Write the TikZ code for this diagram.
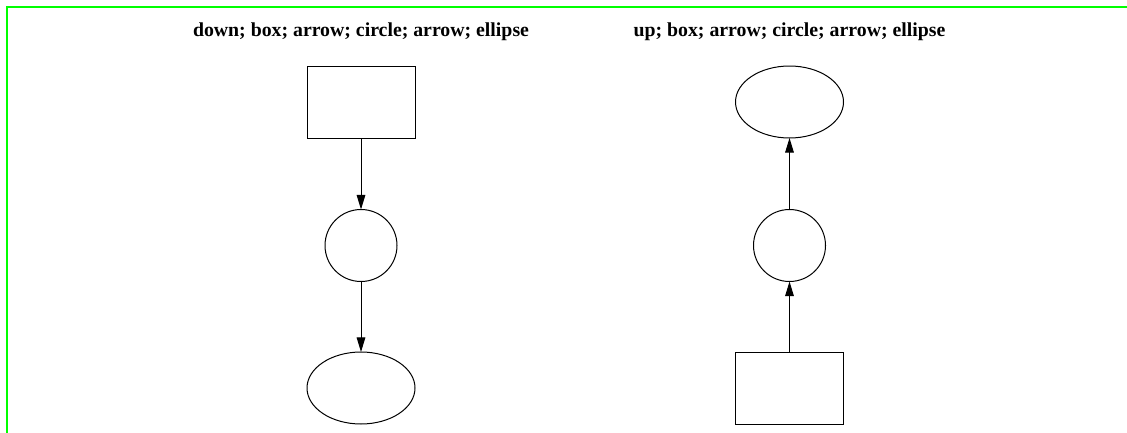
\documentclass[tikz,border=0pt]{standalone}
\usepackage{fontspec}
\setmainfont{Liberation Serif}
\usetikzlibrary{arrows.meta,shapes.geometric}
\begin{document}
\begin{tikzpicture}[x=0.75pt,y=-0.75pt,
  shp/.style={draw=black, line width=0.75pt, inner sep=0pt, outer sep=0pt},
  boxshape/.style={shp, rectangle, minimum width=81pt, minimum height=54pt},
  circshape/.style={shp, circle, minimum size=54pt},
  ellshape/.style={shp, ellipse, minimum width=81pt, minimum height=54pt},
  conn/.style={line width=0.75pt, -{Triangle[length=11pt,width=6.5pt]}},
  title/.style={font=\fontsize{14.85}{18}\selectfont\bfseries, anchor=base, inner sep=0pt},
  frame/.style={draw={rgb,255:red,0;green,255;blue,0}, line width=1.5pt}
]
\useasboundingbox (0,0) rectangle (1127,432);
\clip (0,0) rectangle (1127,432);
\draw[frame] (1140,7) -- (7,7) -- (7,445);

% left column
\node[title] (t1) at (361,36.7) {down; box; arrow; circle; arrow; ellipse};
\node[boxshape] (b1) at (361,102) {};
\node[circshape] (c1) at (361,245.5) {};
\node[ellshape] (e1) at (361,388) {};
\draw[conn] (b1.south) -- (c1.north);
\draw[conn] (c1.south) -- (e1.north);

% right column
\node[title] (t2) at (789.5,36.7) {up; box; arrow; circle; arrow; ellipse};
\node[ellshape] (e2) at (789.5,102) {};
\node[circshape] (c2) at (789.5,245.5) {};
\node[boxshape] (b2) at (789.5,388) {};
\draw[conn] (b2.north) -- (c2.south);
\draw[conn] (c2.north) -- (e2.south);
\end{tikzpicture}
\end{document}
